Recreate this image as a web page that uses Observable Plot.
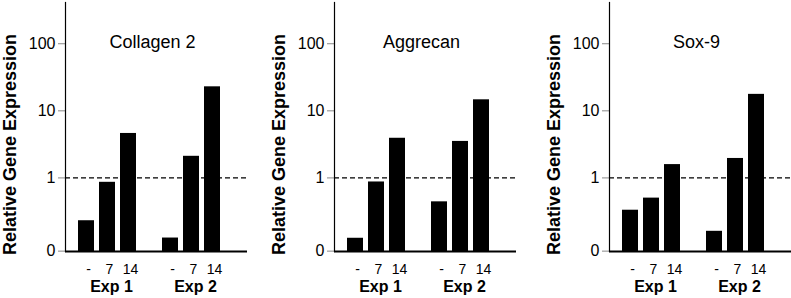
<!DOCTYPE html>
<html><head><meta charset="utf-8">
<script src="https://cdn.jsdelivr.net/npm/d3@7"></script>
<script src="https://cdn.jsdelivr.net/npm/@observablehq/plot@0.6"></script>
<style>
body{margin:0;background:#fff;overflow:hidden;}
#wrap{position:relative;width:791px;height:298px;overflow:hidden;background:#fff;}
.panel{position:absolute;top:0;width:260px;height:298px;}
.panel svg{max-width:none !important;}
</style></head><body><div id="wrap"></div>
<script>
// ---- data ----
const genes = ["Collagen 2", "Aggrecan", "Sox-9"];
const experiments = ["Exp 1", "Exp 2"];
const days = ["-", "7", "14"];
const collagen2 = [0.23, 0.86, 4.6, 0.127, 2.1, 22.8];
const aggrecan = [0.126, 0.87, 3.9, 0.44, 3.5, 14.6];
const sox9 = [0.33, 0.50, 1.58, 0.16, 1.95, 17.6];
const yTicks = [0.081, 1, 10, 100];
const yTickLabels = ["0", "1", "10", "100"];
const yDomain = [0.08, 412];
const reference = [1];
const yLabel = "Relative Gene Expression";

const seriesByGene = [collagen2, aggrecan, sox9];
const panelLeft = [0, 269, 544];
const GAP = "gap";
const slots = [];
experiments.forEach((e, ei) => {
  if (ei > 0) slots.push(GAP);
  days.forEach(d => slots.push(e + "|" + d));
});
const barSlots = slots.filter(s => s !== GAP);
const yTickRows = yTicks.map((v, i) => ({v, label: yTickLabels[i]}));

const wrap = document.getElementById("wrap");
genes.forEach((gene, gi) => {
  const vals = seriesByGene[gi];
  const rows = barSlots.map((s, i) => ({slot: s, value: vals[i], base: yDomain[0]}));
  const chart = Plot.plot({
    width: 260,
    height: 298,
    marginLeft: 65,
    marginRight: 13,
    marginTop: 2,
    marginBottom: 47,
    style: {fontFamily: "'Liberation Sans', Arial, Helvetica, sans-serif", color: "black", background: "white", maxWidth: "none"},
    x: {type: "band", domain: slots, paddingInner: 0.227, paddingOuter: 0.75, align: 0.333},
    y: {type: "log", domain: yDomain},
    marks: [
      Plot.ruleY(reference, {stroke: "black", strokeWidth: 1.3, strokeDasharray: "5,3"}),
      Plot.barY(rows, {x: "slot", y1: "base", y2: "value", fill: "black"}),
      Plot.axisY({ticks: yTicks, tickFormat: () => "", tickSize: 7, stroke: "#888", label: null}),
      Plot.text(yTickRows, {y: "v", text: "label", frameAnchor: "left", textAnchor: "end", lineAnchor: "middle", dx: -10, fontSize: 16}),
      Plot.ruleY([yDomain[0]], {stroke: "black", strokeWidth: 2}),
      Plot.frame({anchor: "left", stroke: "black", strokeWidth: 1.2}),
      Plot.axisX({ticks: barSlots, tickFormat: s => s.split("|")[1], tickSize: 0, tickPadding: 13, fontSize: 14, dx: 2, label: null}),
      Plot.text(experiments, {x: e => e + "|7", text: d => d, frameAnchor: "bottom", lineAnchor: "middle", dy: 35, dx: 4, fontSize: 16, fontWeight: "bold"}),
      Plot.text([gene], {text: d => d, frameAnchor: "top", lineAnchor: "middle", dy: 40, dx: -4, fontSize: 18}),
      Plot.text([yLabel], {text: d => d, frameAnchor: "left", textAnchor: "middle", rotate: -90, dx: -55, dy: 17.5, fontSize: 18, fontWeight: "bold"})
    ]
  });
  const div = document.createElement("div");
  div.className = "panel";
  div.style.left = panelLeft[gi] + "px";
  div.appendChild(chart);
  wrap.appendChild(div);
});
</script></body></html>
